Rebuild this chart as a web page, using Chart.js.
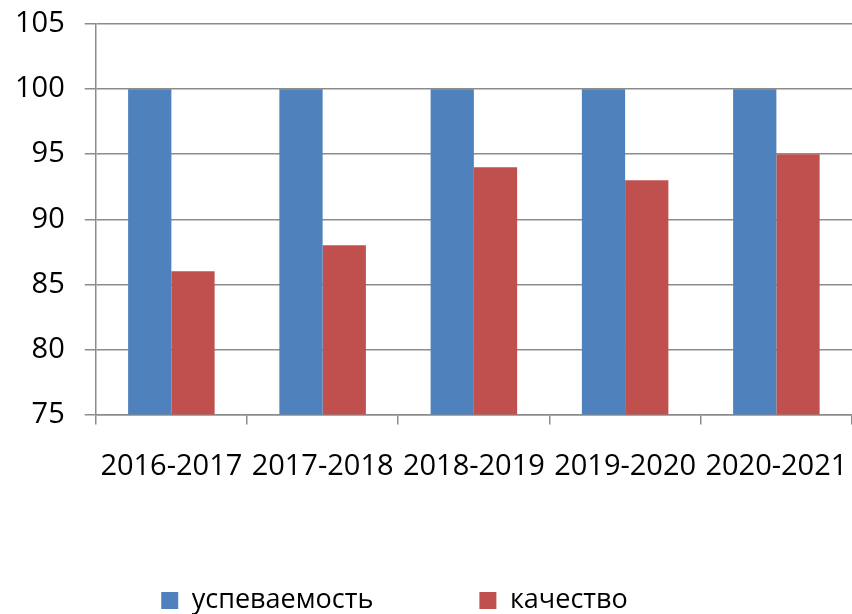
<!DOCTYPE html>
<html lang="ru">

<head>
  <meta charset="UTF-8" />
  <title>Успеваемость и качество</title>
  <script src="https://cdn.jsdelivr.net/npm/chart.js"></script>
  <style>
    html, body { margin: 0; padding: 0; background: #fff; }
    .wrap { position: relative; width: 852px; height: 614px; }
  </style>
</head>

<body>
  <div class="wrap">
    <canvas id="gradesChart"></canvas>
  </div>

  <script>
    const years = ['2016-2017', '2017-2018', '2018-2019', '2019-2020', '2020-2021'];
    const progress = [100, 100, 100, 100, 100];
    const quality = [86, 88, 94, 93, 95];
    const yTicks = [75, 80, 85, 90, 95, 100, 105];

    const font = "'Open Sans', 'Noto Sans', sans-serif";
    const gridColor = '#8c8c8c';

    // nudge the legend row to where it sits in the original
    const legendShift = {
      id: 'legendShift',
      afterLayout(chart) {
        const l = chart.legend;
        l.left -= 29; l.right -= 29;
        l.top -= 27; l.bottom -= 27;
      }
    };

    new Chart(document.getElementById('gradesChart'), {
      type: 'bar',
      data: {
        labels: years,
        datasets: [{
          label: 'успеваемость',
          data: progress,
          backgroundColor: '#4f81bd'
        }, {
          label: 'качество',
          data: quality,
          backgroundColor: '#c0504d'
        }]
      },
      options: {
        responsive: true,
        maintainAspectRatio: false,
        animation: false,
        datasets: { bar: { categoryPercentage: 0.572, barPercentage: 1 } },
        layout: { padding: { top: 0, left: -5, right: 0, bottom: -37 } },
        plugins: {
          tooltip: { enabled: false },
          legend: {
            position: 'bottom',
            labels: {
              boxWidth: 17, boxHeight: 17, padding: 106,
              color: '#000', font: { family: font, size: 27 }
            }
          }
        },
        scales: {
          y: {
            min: yTicks[0],
            max: yTicks[yTicks.length - 1],
            afterBuildTicks: (scale) => { scale.ticks = yTicks.map(v => ({ value: v })); },
            ticks: { padding: 20, color: '#000', font: { family: font, size: 29, lineHeight: 0.28 } },
            grid: { color: gridColor, lineWidth: 1.5, tickLength: 11 },
            border: { color: gridColor, width: 1.5 }
          },
          x: {
            ticks: { padding: 0, color: '#000', maxRotation: 0, font: { family: font, size: 29, lineHeight: 2.88 } },
            grid: { offset: true, drawOnChartArea: false, color: gridColor, lineWidth: 1.5, tickLength: 10 },
            border: { color: gridColor, width: 1.5 }
          }
        }
      },
      plugins: [legendShift]
    });
  </script>
</body>

</html>
